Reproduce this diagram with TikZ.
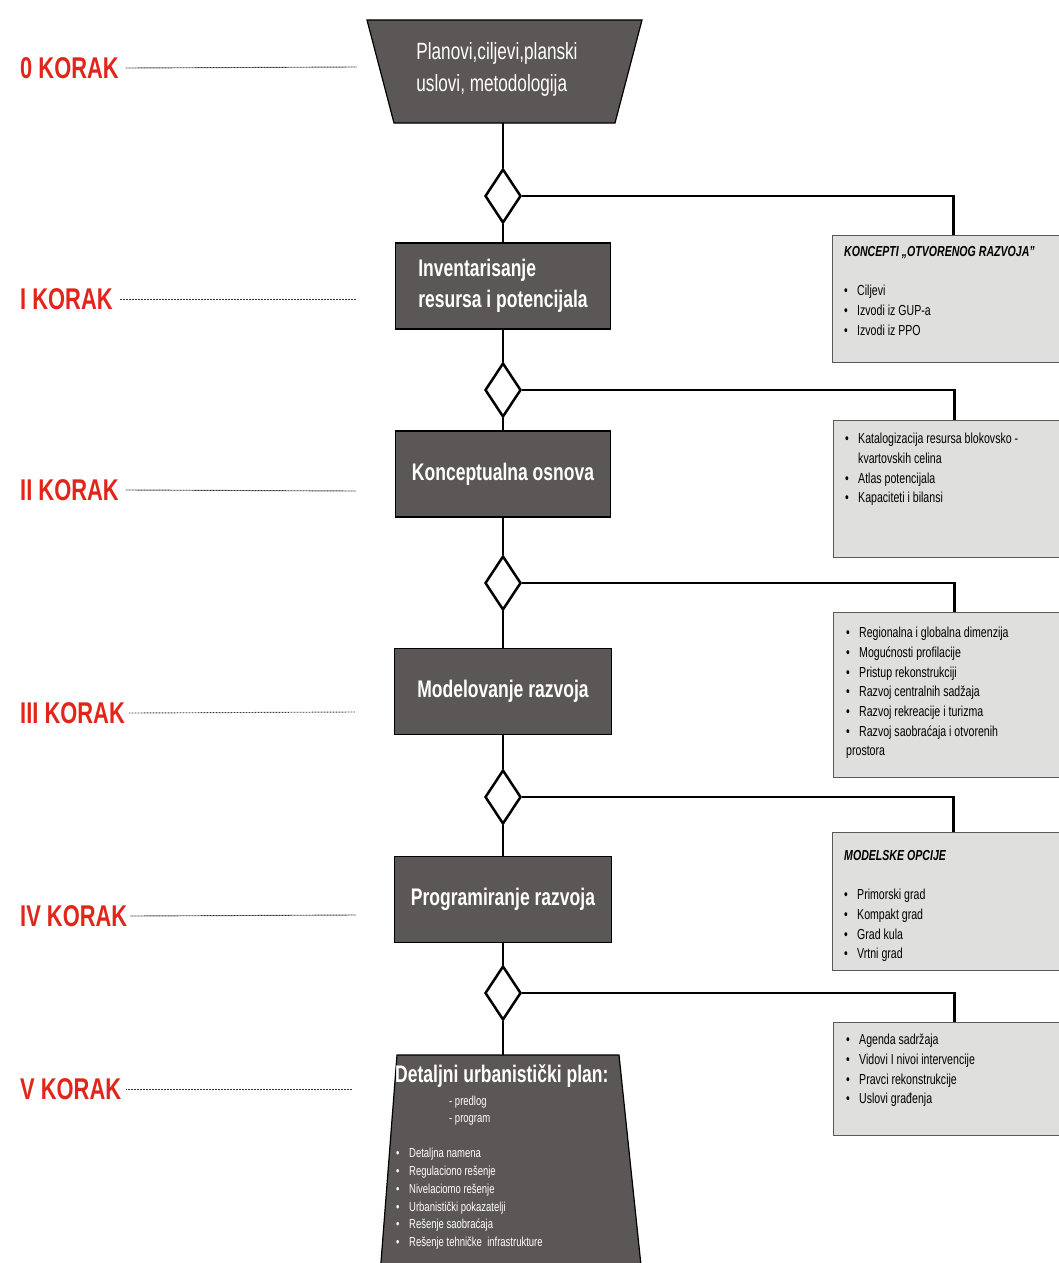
\documentclass[tikz,border=0pt]{standalone}
\usepackage{fontspec}
\setmainfont{Liberation Sans}[FakeStretch=0.73]
\usetikzlibrary{shapes.geometric}
\definecolor{korakred}{HTML}{E1251B}
\definecolor{boxgray}{HTML}{5B5756}
\definecolor{notegray}{HTML}{DFDFDD}
\newcommand{\itm}{\makebox[13pt][l]{\textbullet}}
\begin{document}
\begin{tikzpicture}[x=1pt,y=-1pt,
  korak/.style={anchor=west, inner sep=0pt, text=korakred, font=\fontsize{30}{30}\selectfont\bfseries},
  dots/.style={line width=0.9pt, dash pattern=on 0.9pt off 0.6pt, black!80},
  stepbox/.style={draw=black, line width=1.5pt, fill=boxgray, text=white, align=left, font=\fontsize{24}{31}\selectfont\bfseries, minimum width=215, minimum height=86},
  gate/.style={diamond, draw=black, line width=2.5pt, fill=white, minimum width=36, minimum height=54, inner sep=0pt},
  note/.style={draw=black!65, line width=1.3pt, fill=notegray, anchor=north west, minimum width=242, inner sep=0pt},
  notetext/.style={anchor=north west, inner sep=0pt, align=left, font=\fontsize{14.5}{19.7}\selectfont},
  link/.style={line width=2.5pt},
  plate/.style={draw=black, line width=1.2pt, fill=boxgray}]
\useasboundingbox (0,0) rectangle (1059,1263);

\node[korak] (K0) at (20,68) {0 KORAK};
\node[korak] (K1) at (20,299) {I KORAK};
\node[korak] (K2) at (20,490) {II KORAK};
\node[korak] (K3) at (20,713) {III KORAK};
\node[korak] (K4) at (20,916) {IV KORAK};
\node[korak] (K5) at (20,1089) {V KORAK};
\coordinate (E0) at (357,67);
\coordinate (E1) at (356,299);
\coordinate (E2) at (356,491);
\coordinate (E3) at (355,712);
\coordinate (E4) at (356,915);
\coordinate (E5) at (352,1089);
\draw[dots] ([xshift=7pt]K0.east) -- (E0);
\draw[dots] ([xshift=7pt]K1.east) -- (E1);
\draw[dots] ([xshift=7pt]K2.east) -- (E2);
\draw[dots] ([xshift=4pt]K3.east) -- (E3);
\draw[dots] ([xshift=3pt]K4.east) -- (E4);
\draw[dots] ([xshift=5pt]K5.east) -- (E5);

\draw[plate] (367,20) -- (642,20) -- (615,123) -- (394,123) -- cycle;
\coordinate (P0) at (503,123);
\node[text=white, align=left, font=\fontsize{23.5}{32}\selectfont] (T0) at (497,69) {Planovi,ciljevi,planski\\uslovi, metodologija};
\node[gate] (D1) at (503,196) {};
\node[stepbox] (B1) at (503,286) {Inventarisanje\\resursa i potencijala};
\node[gate] (D2) at (503,390) {};
\node[stepbox] (B2) at (503,474) {Konceptualna osnova};
\node[gate] (D3) at (503,583) {};
\node[stepbox, minimum width=217] (B3) at (503,691.5) {Modelovanje razvoja};
\node[gate] (D4) at (503,797) {};
\node[stepbox, minimum width=217] (B4) at (503,899.5) {Programiranje razvoja};
\node[gate] (D5) at (503,993) {};
\draw[plate] (397,1055) -- (619,1055) -- (642,1275) -- (380,1275) -- cycle;
\coordinate (P5) at (503,1055);

\node[note, minimum height=127] (N1) at (832,235) {};
\node[note, minimum height=137] (N2) at (833,420) {};
\node[note, minimum height=165] (N3) at (833,612) {};
\node[note, minimum height=138] (N4) at (832,832) {};
\node[note, minimum height=113] (N5) at (833,1022) {};

\node[notetext] (C1) at (844,246) {\textbf{\textit{KONCEPTI „OTVORENOG RAZVOJA”}}\\[19.7pt]
  \itm Ciljevi\\ \itm Izvodi iz GUP-a\\ \itm Izvodi iz PPO};
\node[notetext] (C2) at (845,433) {\itm Katalogizacija resursa blokovsko -\\ \hspace*{13pt}kvartovskih celina\\
  \itm Atlas potencijala\\ \itm Kapaciteti i bilansi};
\node[notetext] (C3) at (846,627) {\itm Regionalna i globalna dimenzija\\ \itm Mogućnosti profilacije\\
  \itm Pristup rekonstrukciji\\ \itm Razvoj centralnih sadžaja\\ \itm Razvoj rekreacije i turizma\\
  \itm Razvoj saobraćaja i otvorenih\\ prostora};
\node[notetext] (C4) at (844,850) {\textbf{\textit{MODELSKE OPCIJE}}\\[19.7pt]
  \itm Primorski grad\\ \itm Kompakt grad\\ \itm Grad kula\\ \itm Vrtni grad};
\node[notetext] (C5) at (846,1034) {\itm Agenda sadržaja\\ \itm Vidovi I nivoi intervencije\\
  \itm Pravci rekonstrukcije\\ \itm Uslovi građenja};

\node[anchor=west, inner sep=0pt, text=white, font=\fontsize{24}{24}\selectfont\bfseries] (T5) at (395,1076) {Detaljni urbanistički plan:};
\node[notetext, text=white, font=\fontsize{13}{17}\selectfont] (S5) at (449,1096) {- predlog\\- program};
\node[notetext, text=white, font=\fontsize{13}{17.8}\selectfont] (L5) at (396,1148) {\itm Detaljna namena\\ \itm Regulaciono rešenje\\
  \itm Nivelaciomo rešenje\\ \itm Urbanistički pokazatelji\\ \itm Rešenje saobraćaja\\ \itm Rešenje tehničke\ \ infrastrukture};

\draw[link] (P0) -- (D1);
\draw[link] (D1) -- (B1);
\draw[link] (B1) -- (D2);
\draw[link] (D2) -- (B2);
\draw[link] (B2) -- (D3);
\draw[link] (D3) -- (B3);
\draw[link] (B3) -- (D4);
\draw[link] (D4) -- (B4);
\draw[link] (B4) -- (D5);
\draw[link] (D5) -- (P5);
\draw[link] (D1) -| (N1.north);
\draw[link] (D2) -| (N2.north);
\draw[link] (D3) -| (N3.north);
\draw[link] (D4) -| (N4.north);
\draw[link] (D5) -| (N5.north);
\end{tikzpicture}
\end{document}
